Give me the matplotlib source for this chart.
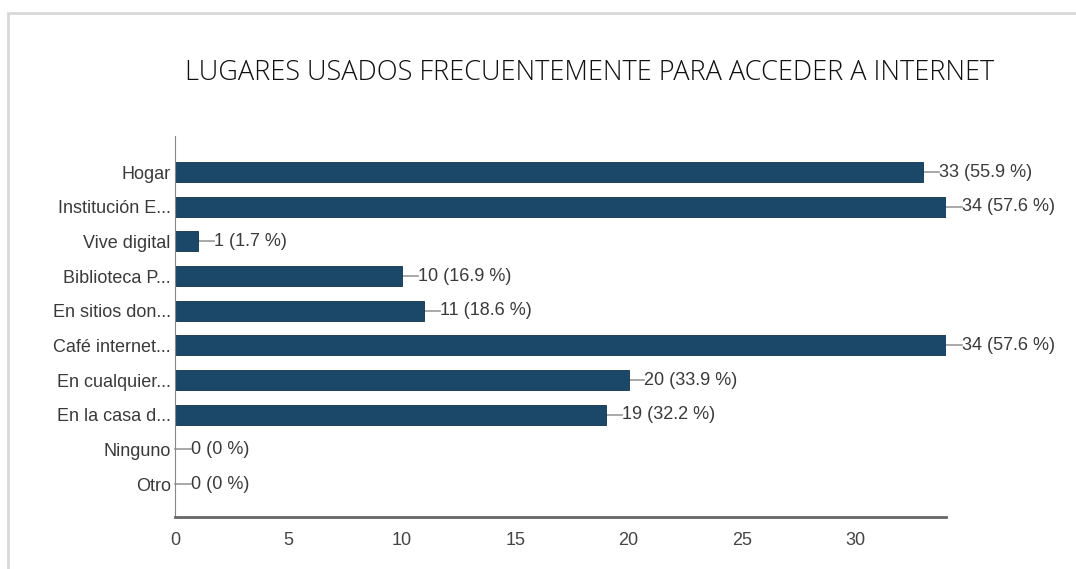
import matplotlib.pyplot as plt
import matplotlib.patches as patches

# Data
categories = ['Hogar', 'Institución E...', 'Vive digital', 'Biblioteca P...',
              'En sitios don...', 'Café internet...', 'En cualquier...',
              'En la casa d...', 'Ninguno', 'Otro']
counts = [33, 34, 1, 10, 11, 34, 20, 19, 0, 0]
percents = ['55.9', '57.6', '1.7', '16.9', '18.6', '57.6', '33.9', '32.2', '0', '0']
xticks = [0, 5, 10, 15, 20, 25, 30]

font = 'Liberation Sans'
bar_color = '#1b4868'
text_color = '#3a3a3a'

fig = plt.figure(figsize=(10.76, 5.69), dpi=100)
fig.patches.append(patches.Rectangle((8 / 1076, -0.1), 1.2, 1 - 13 / 569 + 0.1,
                                     transform=fig.transFigure, fill=False,
                                     edgecolor='#d8d8d8', lw=2))

ax = fig.add_axes([175 / 1076, 1 - 517 / 569, 771 / 1076, 381 / 569])
y = list(range(len(categories)))
ax.barh(y, counts, height=0.58, color=bar_color, edgecolor='#10324a', lw=0.6, zorder=2)

# value labels with short leader lines
for i, (c, p) in enumerate(zip(counts, percents)):
    ax.plot([c, c + 0.7], [i, i], color='#9a9a9a', lw=1.2, zorder=1, clip_on=False)
    ax.text(c + 0.7, i, '%d (%s %%)' % (c, p), va='center', ha='left',
            fontsize=13, family=font, color=text_color, clip_on=False)

ax.set_xlim(0, 34)
ax.set_ylim(9.95, -1.04)
ax.set_yticks(y)
ax.set_yticklabels(categories, family=font, fontsize=13, color=text_color)
ax.set_xticks(xticks)
ax.set_xticklabels([str(t) for t in xticks], family=font, fontsize=13, color='#444444')
ax.tick_params(length=0, pad=3)
ax.tick_params(axis='x', pad=11)
for s in ['top', 'right']:
    ax.spines[s].set_visible(False)
ax.spines['left'].set_color('#888888')
ax.spines['bottom'].set_color('#666666')
ax.spines['bottom'].set_linewidth(2)

fig.text(590 / 1076, 1 - 73 / 569, 'LUGARES USADOS FRECUENTEMENTE PARA ACCEDER A INTERNET',
         ha='center', va='center', fontsize=19.5, family='Open Sans', color='#111111',
         fontweight='light')

fig.savefig('out.png', dpi=100)
